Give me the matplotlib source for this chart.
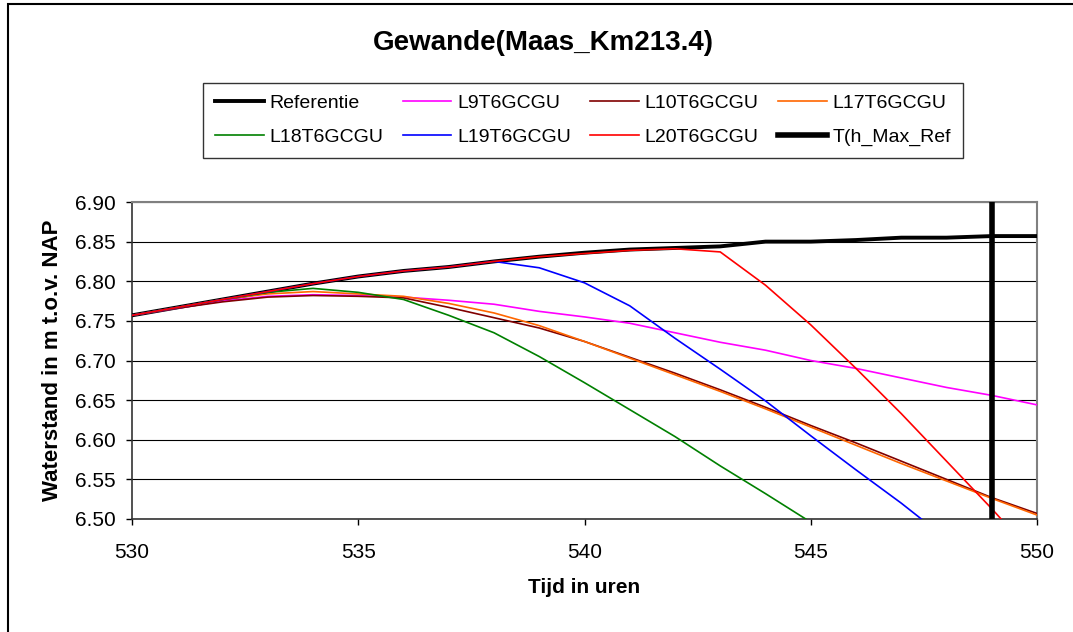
import matplotlib
matplotlib.use("Agg")
import matplotlib.pyplot as plt
import numpy as np
from matplotlib.patches import Rectangle

nan = np.nan

# tijd in uren
uren = [530, 531, 532, 533, 534, 535, 536, 537, 538, 539, 540,
        541, 542, 543, 544, 545, 546, 547, 548, 549, 550]

referentie = [6.757, 6.767, 6.777, 6.787, 6.797, 6.806, 6.813, 6.818, 6.825, 6.831, 6.836,
              6.840, 6.842, 6.844, 6.850, 6.850, 6.852, 6.855, 6.855, 6.857, 6.857]
l9 = [6.757, 6.766, 6.775, 6.781, 6.783, 6.782, 6.780, 6.776, 6.771, 6.762, 6.755,
      6.747, 6.735, 6.723, 6.713, 6.700, 6.690, 6.678, 6.666, 6.656, 6.644]
l10 = [6.757, 6.766, 6.774, 6.780, 6.782, 6.781, 6.779, 6.767, 6.754, 6.741, 6.724,
       6.704, 6.684, 6.663, 6.641, 6.618, 6.596, 6.573, 6.550, 6.527, 6.507]
l17 = [6.757, 6.767, 6.777, 6.784, 6.787, 6.784, 6.781, 6.772, 6.760, 6.744, 6.724,
       6.703, 6.682, 6.661, 6.639, 6.616, 6.593, 6.570, 6.548, 6.526, 6.505]
l18 = [6.757, 6.767, 6.777, 6.786, 6.791, 6.786, 6.777, 6.757, 6.735, 6.705, 6.672,
       6.638, 6.604, 6.567, 6.532, 6.496, nan, nan, nan, nan, nan]
l19 = [6.757, 6.767, 6.777, 6.787, 6.797, 6.806, 6.813, 6.818, 6.825, 6.817, 6.798,
       6.769, 6.728, 6.689, 6.649, 6.605, 6.562, 6.520, 6.475, nan, nan]
l20 = [6.757, 6.767, 6.777, 6.787, 6.797, 6.806, 6.813, 6.818, 6.825, 6.831, 6.835,
       6.839, 6.841, 6.837, 6.795, 6.745, 6.690, 6.633, 6.573, 6.513, 6.450]
t_hmax_ref = 549

series = [
    ("L9T6GCGU", l9, "#FF00FF"),
    ("L10T6GCGU", l10, "#800000"),
    ("L17T6GCGU", l17, "#FF6600"),
    ("L18T6GCGU", l18, "#008000"),
    ("L19T6GCGU", l19, "#0000FF"),
    ("L20T6GCGU", l20, "#FF0000"),
]

plt.rcParams["font.family"] = ["Liberation Sans", "DejaVu Sans"]

fig = plt.figure(figsize=(10.73, 6.32), dpi=100)
W, H = 1073, 632
ax = fig.add_axes([132 / W, 1 - 519 / H, (1037 - 132) / W, (519 - 202) / H])

# outer chart border (only left/top visible in the crop)
fig.patches.append(Rectangle((8 / W, -0.05), 1.2, 1 - 4 / H + 0.05, transform=fig.transFigure,
                             fill=False, edgecolor="black", linewidth=1.5))

handles = []
h_ref, = ax.plot(uren, referentie, color="black", linewidth=2.8, label="Referentie", zorder=3)
handles.append(h_ref)
for name, vals, col in series:
    h, = ax.plot(uren, vals, color=col, linewidth=1.2, label=name, zorder=4)
    handles.append(h)
h_t = ax.axvline(t_hmax_ref, color="black", linewidth=4.0, label="T(h_Max_Ref", zorder=5)
handles.append(h_t)

ax.set_xlim(530, 550)
ax.set_ylim(6.50, 6.90)
ax.set_xticks([530, 535, 540, 545, 550])
ax.set_yticks([6.50, 6.55, 6.60, 6.65, 6.70, 6.75, 6.80, 6.85, 6.90])
ax.yaxis.set_major_formatter(matplotlib.ticker.FormatStrFormatter("%.2f"))
ax.grid(axis="y", color="black", linewidth=0.8)
ax.set_axisbelow(True)
ax.tick_params(axis="both", direction="out", length=4, width=1, labelsize=15, colors="black")
ax.tick_params(axis="x", pad=13)
ax.tick_params(axis="y", pad=8)

for s in ("left", "bottom"):
    ax.spines[s].set_color("#333333")
    ax.spines[s].set_linewidth(1.2)
for s in ("top", "right"):
    ax.spines[s].set_color("#808080")
    ax.spines[s].set_linewidth(1.5)

ax.set_xlabel("Tijd in uren", fontsize=15, fontweight="bold", labelpad=12)
ax.set_ylabel("Waterstand in m t.o.v. NAP", fontsize=16, fontweight="bold", labelpad=8)

fig.text(543.5 / W, 1 - 43 / H, "Gewande(Maas_Km213.4)", ha="center", va="center",
         fontsize=20, fontweight="bold")

# legend order: row-wise as in the reference
order = [0, 4, 1, 5, 2, 6, 3, 7]
leg = fig.legend([handles[i] for i in order], [handles[i].get_label() for i in order],
                 loc="center", bbox_to_anchor=(583 / W, 1 - 120.5 / H), ncol=4,
                 fontsize=14, frameon=True, fancybox=False, edgecolor="black",
                 handlelength=2.5, handletextpad=0.3, columnspacing=1.0,
                 labelspacing=0.85, borderpad=0.6, borderaxespad=0)
leg.get_frame().set_linewidth(1.0)

fig.savefig("out.png", dpi=100)
